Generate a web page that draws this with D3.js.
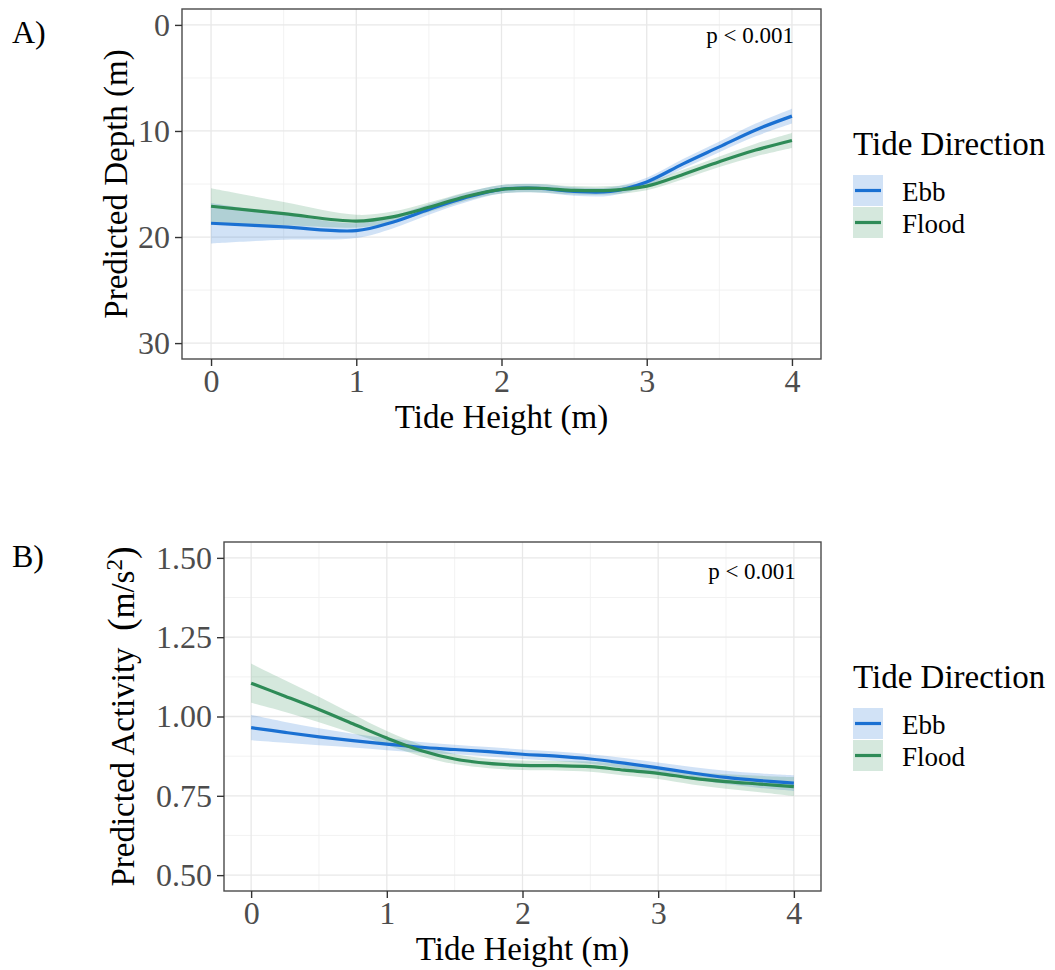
<!DOCTYPE html>
<html>
<head>
<meta charset="utf-8">
<script src="https://cdn.jsdelivr.net/npm/d3@7"></script>
<style>
  body { margin: 0; background: #fff; }
  svg { display: block; font-family: "Liberation Serif", "Times New Roman", serif; }
</style>
</head>
<body>
<div id="container"></div>
<script>
// ---------------------------------------------------------------- data
const directions = ["Ebb", "Flood"];
const xTicks = [0, 1, 2, 3, 4];

// panel A : predicted depth (m) vs tide height
const depthX     = [0, 0.5, 1, 1.25, 1.5, 1.75, 2, 2.25, 2.5, 2.75, 3, 3.25, 3.5, 3.75, 4];
const depthEbb   = [18.7, 19.05, 19.4, 18.6, 17.4, 16.3, 15.5, 15.4, 15.7, 15.7, 14.8, 13.1, 11.5, 9.9, 8.6];
const depthEbbSe = [1.9, 1.2, 0.7, 0.6, 0.5, 0.45, 0.4, 0.4, 0.4, 0.4, 0.4, 0.45, 0.5, 0.6, 0.7];
const depthFlood   = [17.1, 17.8, 18.5, 18.1, 17.2, 16.2, 15.5, 15.4, 15.6, 15.6, 15.2, 14.1, 12.9, 11.8, 10.9];
const depthFloodSe = [1.7, 1.1, 0.6, 0.5, 0.45, 0.4, 0.4, 0.4, 0.4, 0.4, 0.4, 0.45, 0.5, 0.6, 0.7];
const depthTicks = [0, 10, 20, 30];
const depthMinor = [5, 15, 25];

// panel B : predicted activity (m/s2) vs tide height
const actX     = [0, 0.25, 0.5, 0.75, 1, 1.25, 1.5, 1.75, 2, 2.25, 2.5, 2.75, 3, 3.25, 3.5, 3.75, 4];
const actEbb   = [0.965, 0.95, 0.936, 0.924, 0.913, 0.903, 0.896, 0.889, 0.881, 0.875, 0.866, 0.853, 0.838, 0.822, 0.808, 0.798, 0.79];
const actEbbSe = [0.04, 0.033, 0.027, 0.022, 0.019, 0.017, 0.015, 0.015, 0.015, 0.015, 0.015, 0.016, 0.017, 0.019, 0.021, 0.023, 0.025];
const actFlood   = [1.105, 1.064, 1.022, 0.977, 0.932, 0.893, 0.866, 0.852, 0.846, 0.845, 0.842, 0.831, 0.821, 0.806, 0.795, 0.787, 0.779];
const actFloodSe = [0.062, 0.05, 0.04, 0.03, 0.022, 0.018, 0.016, 0.015, 0.015, 0.015, 0.016, 0.017, 0.018, 0.02, 0.023, 0.026, 0.03];
const actTicks = [0.5, 0.75, 1.0, 1.25, 1.5];
const actMinor = [0.625, 0.875, 1.125, 1.375];

const xMinor = [0.5, 1.5, 2.5, 3.5];

(function(){

    const width = 1055, height = 970;
    const colors = {Ebb: "#1a70d2", Flood: "#2e8b57"};
    const tickGrey = "#4d4d4d";
    const serif = '"Liberation Serif", "Times New Roman", serif';

    const svg = d3.select("#container").append("svg")
        .attr("width", width)
        .attr("height", height);

    function series(xs, fit, se, name) {
        return xs.map((x, i) => ({x, y: fit[i], lo: fit[i] - se[i], hi: fit[i] + se[i], name}));
    }

    function panel(opt) {
        const {left, right, top, bottom} = opt.box;
        const x = d3.scaleLinear([-0.2, 4.2], [left, right]);
        const y = d3.scaleLinear(opt.yDomain, opt.yRange);
        const g = svg.append("g");

        // grid
        const grid = g.append("g");
        grid.selectAll(".minx").data(xMinor).join("line")
            .attr("class", "minx")
            .attr("x1", d => x(d)).attr("x2", d => x(d))
            .attr("y1", top).attr("y2", bottom)
            .attr("stroke", "#f0f0f0").attr("stroke-width", 0.9);
        grid.selectAll(".miny").data(opt.minor).join("line")
            .attr("class", "miny")
            .attr("x1", left).attr("x2", right)
            .attr("y1", d => y(d)).attr("y2", d => y(d))
            .attr("stroke", "#f0f0f0").attr("stroke-width", 0.9);
        grid.selectAll(".majx").data(xTicks).join("line")
            .attr("class", "majx")
            .attr("x1", d => x(d)).attr("x2", d => x(d))
            .attr("y1", top).attr("y2", bottom)
            .attr("stroke", "#e8e8e8").attr("stroke-width", 1.3);
        grid.selectAll(".majy").data(opt.ticks).join("line")
            .attr("class", "majy")
            .attr("x1", left).attr("x2", right)
            .attr("y1", d => y(d)).attr("y2", d => y(d))
            .attr("stroke", "#e8e8e8").attr("stroke-width", 1.3);

        // ribbons then lines
        const area = d3.area()
            .x(d => x(d.x)).y0(d => y(d.lo)).y1(d => y(d.hi))
            .curve(d3.curveCatmullRom.alpha(0.5));
        const line = d3.line()
            .x(d => x(d.x)).y(d => y(d.y))
            .curve(d3.curveCatmullRom.alpha(0.5));

        g.append("g").selectAll("path").data(opt.data).join("path")
            .attr("d", d => area(d))
            .attr("fill", d => colors[d[0].name])
            .attr("fill-opacity", 0.2);
        g.append("g").selectAll("path").data(opt.data).join("path")
            .attr("d", d => line(d))
            .attr("fill", "none")
            .attr("stroke", d => colors[d[0].name])
            .attr("stroke-width", 3.2);

        // border
        g.append("rect")
            .attr("x", left).attr("y", top)
            .attr("width", right - left).attr("height", bottom - top)
            .attr("fill", "none").attr("stroke", "#4a4a4a").attr("stroke-width", 1.4);

        // axes
        const ax = g.append("g")
            .attr("transform", `translate(0,${bottom})`)
            .call(d3.axisBottom(x).tickValues(xTicks).tickSize(7).tickPadding(3).tickFormat(d3.format("d")));
        const ay = g.append("g")
            .attr("transform", `translate(${left},0)`)
            .call(d3.axisLeft(y).tickValues(opt.ticks).tickSize(7).tickPadding(5).tickFormat(opt.fmt));
        [ax, ay].forEach(a => {
            a.attr("font-family", serif).attr("font-size", 32);
            a.select(".domain").remove();
            a.selectAll(".tick line").attr("stroke", "#333").attr("stroke-width", 1.4);
            a.selectAll(".tick text").attr("fill", tickGrey);
        });

        // titles
        g.append("text")
            .attr("x", (left + right) / 2)
            .attr("y", bottom + 69)
            .attr("text-anchor", "middle")
            .style("font-size", "33px")
            .text("Tide Height (m)");

        const yt = g.append("text")
            .attr("transform", `translate(${opt.yTitleX},${(top + bottom) / 2}) rotate(-90)`)
            .attr("text-anchor", "middle")
            .style("white-space", "pre")
            .style("font-size", "33px");
        opt.yTitle(yt);

        g.append("text")
            .attr("x", 12).attr("y", top + opt.tagDy)
            .style("font-size", "32px")
            .text(opt.tag);

        g.append("text")
            .attr("x", x(4) + 2).attr("y", top + opt.pDy)
            .attr("text-anchor", "end")
            .style("font-size", "23px")
            .text("p < 0.001");

        // legend
        const lg = g.append("g").attr("transform", `translate(853,${top + 146})`);
        lg.append("text")
            .attr("x", 0).attr("y", 0)
            .style("font-size", "33px")
            .text("Tide Direction");
        const item = lg.selectAll(".item").data(directions).join("g")
            .attr("class", "item")
            .attr("transform", (d, i) => `translate(0,${20 + i * 32})`);
        item.append("rect")
            .attr("width", 30).attr("height", 31)
            .attr("fill", d => colors[d]).attr("fill-opacity", 0.2);
        item.append("line")
            .attr("x1", 2).attr("x2", 28)
            .attr("y1", 15.5).attr("y2", 15.5)
            .attr("stroke", d => colors[d]).attr("stroke-width", 3.2);
        item.append("text")
            .attr("x", 49).attr("y", 26)
            .style("font-size", "27px")
            .text(d => d);
    }

    panel({
        box: {left: 182, right: 821, top: 9, bottom: 359},
        yDomain: [-1.5, 31.5], yRange: [9, 359],
        ticks: depthTicks, minor: depthMinor, fmt: d3.format("d"),
        data: [series(depthX, depthEbb, depthEbbSe, "Ebb"), series(depthX, depthFlood, depthFloodSe, "Flood")],
        yTitleX: 127,
        yTitle: t => t.text("Predicted Depth (m)"),
        tag: "A)", tagDy: 34, pDy: 34
    });

    panel({
        box: {left: 224, right: 821, top: 542, bottom: 891},
        yDomain: [0.45, 1.55], yRange: [891, 542],
        ticks: actTicks, minor: actMinor, fmt: d3.format(".2f"),
        data: [series(actX, actEbb, actEbbSe, "Ebb"), series(actX, actFlood, actFloodSe, "Flood")],
        yTitleX: 134,
        yTitle: t => {
            t.append("tspan").text("Predicted Activity  ");
            t.append("tspan").style("font-size", "38px").text("(");
            t.append("tspan").text("m/s");
            t.append("tspan").attr("baseline-shift", "super").style("font-size", "23px").text("2");
            t.append("tspan").style("font-size", "38px").text(")");
        },
        tag: "B)", tagDy: 25, pDy: 37
    });

})();
</script>
</body>
</html>
